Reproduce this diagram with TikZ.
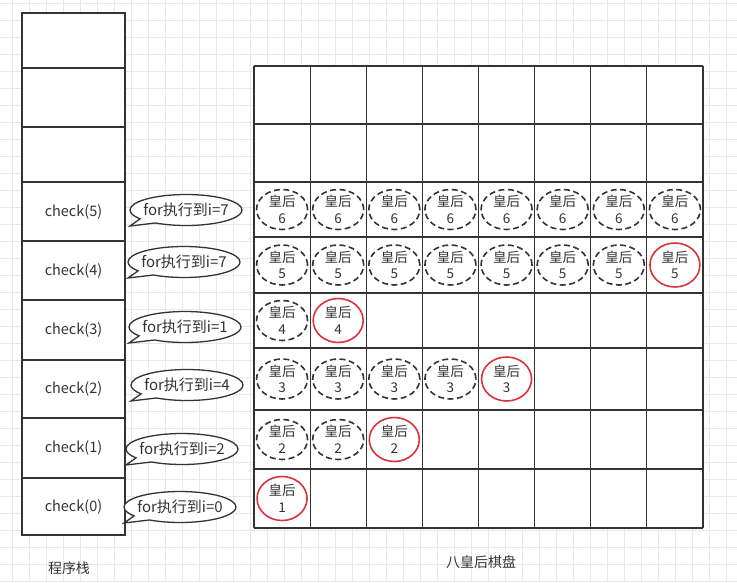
\documentclass[tikz,border=0pt]{standalone}
\usepackage{fontspec}
\setmainfont{Noto Sans CJK SC}
\usetikzlibrary{shapes.geometric,shapes.callouts}
\definecolor{ink}{HTML}{333333}
\definecolor{queenred}{HTML}{D9343B}
\definecolor{paper}{HTML}{E8E8E8}
\begin{document}
\begin{tikzpicture}
	[x=1pt,y=-1pt,
	stackbox/.style={draw=ink,line width=1.8pt,fill=white,minimum width=103pt,
		inner sep=0pt,font=\fontsize{14.5}{17}\selectfont,text=ink},
	bubble/.style={ellipse callout,draw=ink,line width=1.3pt,fill=white,
		minimum width=112pt,minimum height=31pt,inner xsep=-7pt,inner ysep=0pt,
		callout pointer arc=22,
		font=\fontsize{15}{17}\selectfont,text=ink},
	board/.style={draw=ink,line width=1.2pt},
	tried/.style={ellipse,draw=ink,line width=1.6pt,dash pattern=on 6pt off 3.5pt,
		minimum width=51pt,minimum height=40pt,inner sep=0pt,align=center,
		font=\fontsize{13.5}{16.5}\selectfont,text=ink},
	placed/.style={tried,solid,draw=queenred,minimum width=50pt,minimum height=44pt}]
	\useasboundingbox (0,0) rectangle (737,582);
	% graph paper
	\begin{scope}[shift={(12,3)}]
		\draw[paper,line width=0.7pt] (-12,-3) grid[step=17pt] (725,579);
	\end{scope}
	% call stack
	\foreach \top/\bot/\nm/\txt in {13/68/s8/,68/127/s7/,127/182/s6/,
		182/241/s5/check(5),241/300/s4/check(4),300/360/s3/check(3),
		360/418/s2/check(2),418/478/s1/check(1),478/535/s0/check(0)}
		\node[stackbox,minimum height={(\bot-\top)*1pt}] (\nm) at (73.5,{(\top+\bot)/2}) {\txt};
	% loop state
	\foreach \nm/\x/\y/\i in {b5/186/210/7,b4/184/262/7,b3/185/327/1,
		b2/187/385/4,b1/182/449/2,b0/180/507/0}
		\node[bubble,callout absolute pointer={({\x-56},{\y+16})}] (\nm) at (\x,\y) {for执行到i=\i};
	% board
	\fill[white] (254,66) rectangle (703,528);
	\foreach \i in {0,...,8}
		\draw[board] ({254+56.125*\i},66) -- ({254+56.125*\i},528);
	\foreach \y in {66,124,182,237,293,348,410,469,528}
		\draw[board] (254,\y) -- (703,\y);
	% queens
	\foreach \r/\y/\red in {6/209.5/9,5/265/8,4/320.5/2,3/379/5,2/439.5/3,1/498.5/1}
		\foreach \c in {1,...,8}{
			\ifnum\c<\red \node[tried] (q\r-\c) at ({254+56.125*(\c-0.5)},\y) {皇后\\\r};\fi
			\ifnum\c=\red \node[placed] (q\r-\c) at ({254+56.125*(\c-0.5)},\y) {皇后\\\r};\fi
		}
	\node[font=\fontsize{14}{16}\selectfont,text=ink] (stacklabel) at (69,568) {程序栈};
	\node[font=\fontsize{14}{16}\selectfont,text=ink] (boardlabel) at (481,562) {八皇后棋盘};
\end{tikzpicture}
\end{document}
